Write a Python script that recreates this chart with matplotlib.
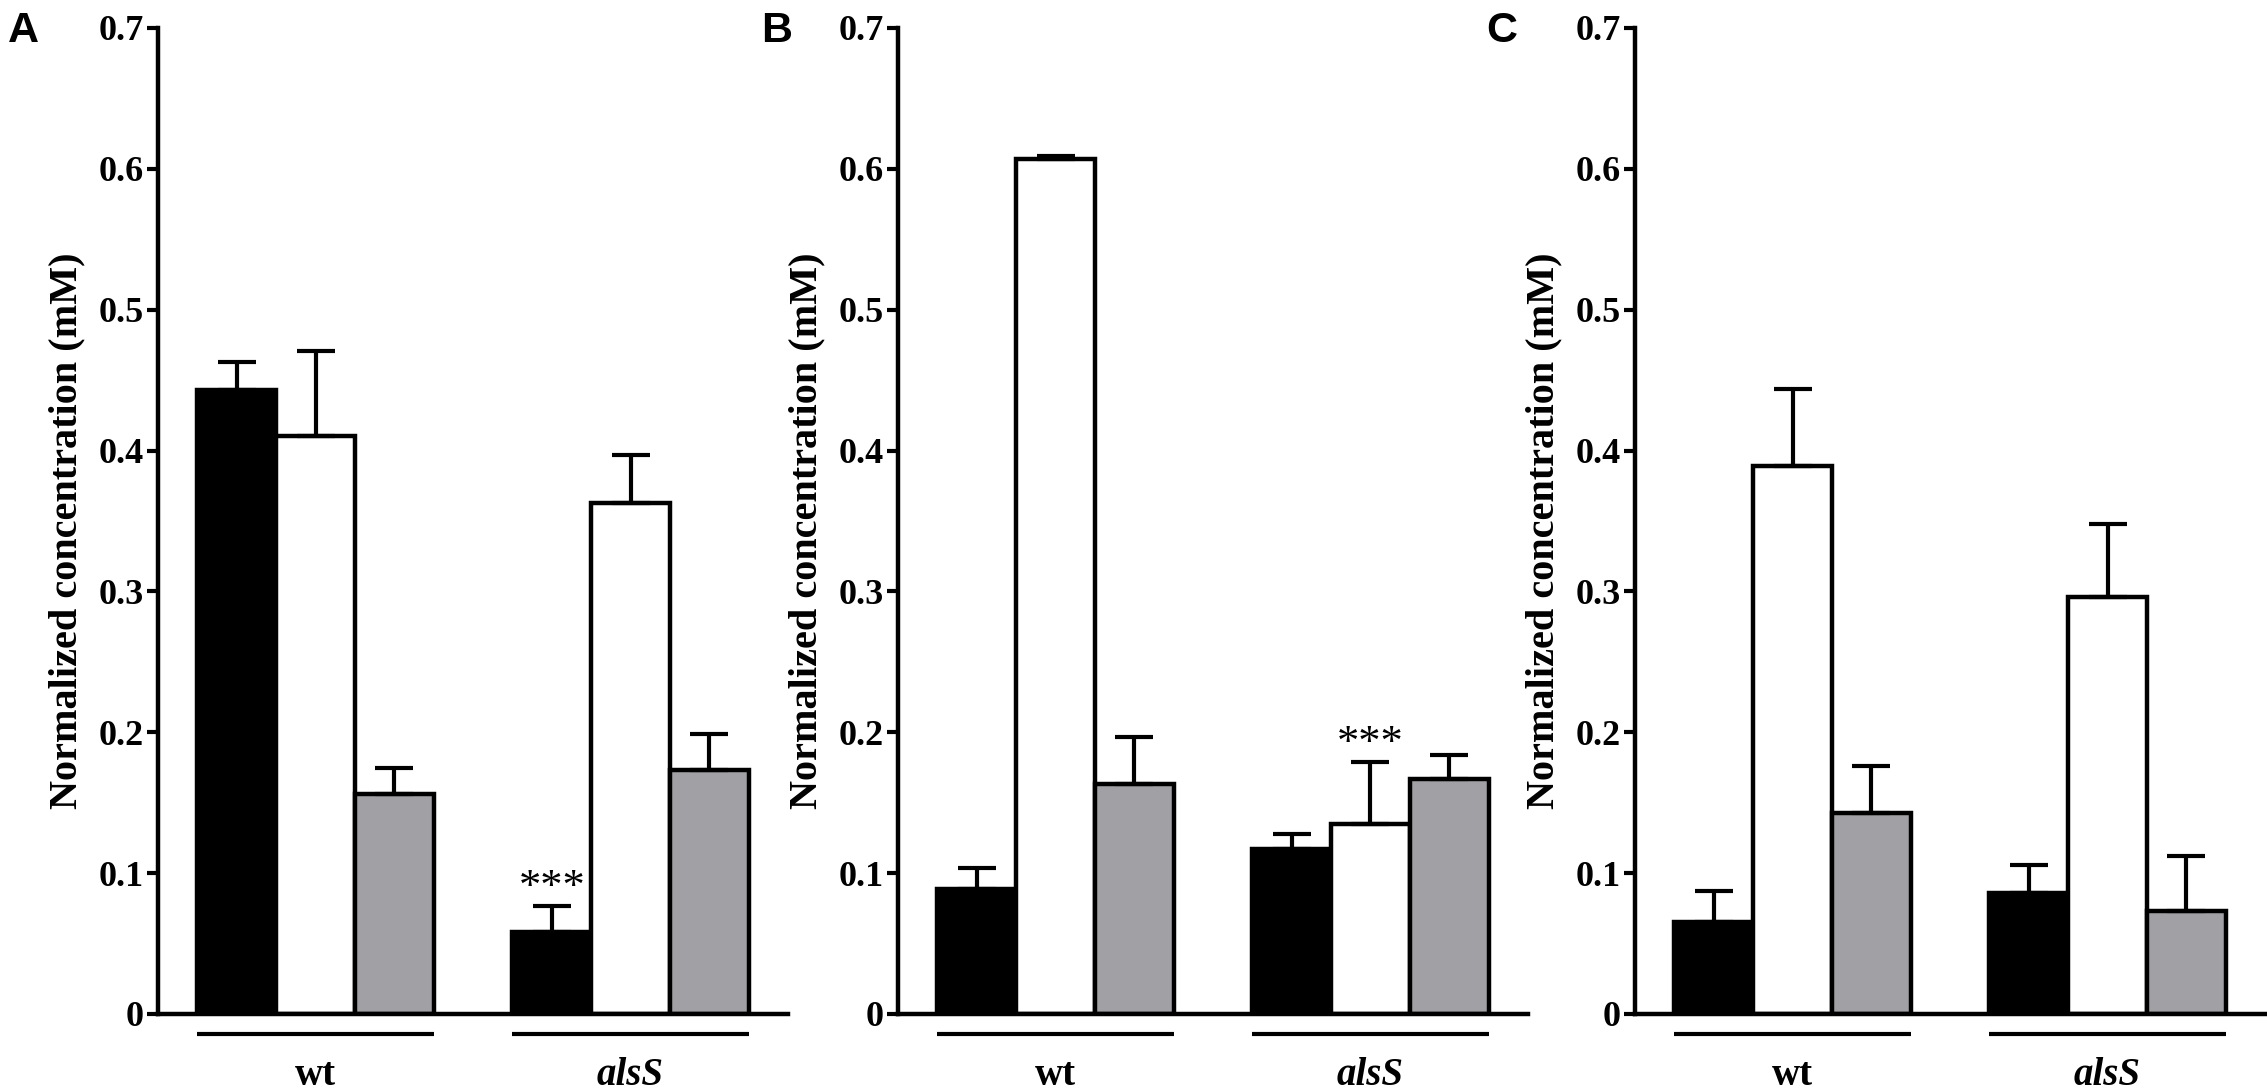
import numpy as np
import matplotlib
matplotlib.use("Agg")
import matplotlib.pyplot as plt
import matplotlib.transforms as mtransforms

plt.rcParams['font.family'] = ['Liberation Serif', 'DejaVu Serif']
plt.rcParams['font.weight'] = 'bold'

# data (mean, and upper error bar length)
groups = ['wt', 'alsS']
panels = ['A', 'B', 'C']

a_black = [0.443, 0.058]
a_black_err = [0.020, 0.019]
a_white = [0.410, 0.363]
a_white_err = [0.061, 0.034]
a_gray = [0.156, 0.173]
a_gray_err = [0.019, 0.026]

b_black = [0.089, 0.117]
b_black_err = [0.015, 0.011]
b_white = [0.607, 0.135]
b_white_err = [0.002, 0.044]
b_gray = [0.163, 0.167]
b_gray_err = [0.034, 0.017]

c_black = [0.065, 0.086]
c_black_err = [0.022, 0.020]
c_white = [0.389, 0.296]
c_white_err = [0.055, 0.052]
c_gray = [0.143, 0.073]
c_gray_err = [0.033, 0.039]

# significance marks: (panel, group index, series index)
stars = [('A', 1, 0), ('B', 1, 1)]

yticks = [0, 0.1, 0.2, 0.3, 0.4, 0.5, 0.6, 0.7]
ytick_labels = ['0', '0.1', '0.2', '0.3', '0.4', '0.5', '0.6', '0.7']

series_colors = ['black', 'white', '#a1a1a5']

panel_data = {
    'A': [(a_black, a_black_err), (a_white, a_white_err), (a_gray, a_gray_err)],
    'B': [(b_black, b_black_err), (b_white, b_white_err), (b_gray, b_gray_err)],
    'C': [(c_black, c_black_err), (c_white, c_white_err), (c_gray, c_gray_err)],
}

W, H = 2267, 1091
fig = plt.figure(figsize=(W / 100, H / 100), dpi=100)

axes_left = [158, 898, 1635]
letter_left = [8, 761, 1486]
group_centers = np.array([2.0, 6.0])
offsets = [-1, 0, 1]

for p, left, lx in zip(panels, axes_left, letter_left):
    ax = fig.add_axes([left / W, 77 / H, 630 / W, 986 / H])
    for k, (vals, errs) in enumerate(panel_data[p]):
        xs = group_centers + offsets[k]
        ax.bar(xs, vals, width=1.0, color=series_colors[k], edgecolor='black',
               linewidth=3.2, zorder=2)
        ax.errorbar(xs, vals, yerr=[np.zeros(len(vals)), errs], fmt='none',
                    ecolor='black', elinewidth=3, capsize=14, capthick=3, zorder=3)

    for sp, gi, si in stars:
        if sp == p:
            vals, errs = panel_data[p][si]
            x = group_centers[gi] + offsets[si]
            ax.annotate('***', xy=(x, vals[gi] + errs[gi]), xytext=(0, 5),
                        textcoords='offset points', ha='center', va='baseline',
                        fontsize=32, fontweight='normal')

    ax.set_xlim(0, 8)
    ax.set_ylim(0, 0.7)
    ax.spines['top'].set_visible(False)
    ax.spines['right'].set_visible(False)
    ax.spines['left'].set_linewidth(3.2)
    ax.spines['bottom'].set_linewidth(3.2)
    ax.set_xticks([])
    ax.set_yticks(yticks)
    ax.set_yticklabels(ytick_labels)
    ax.tick_params(axis='y', direction='out', length=8, width=3, pad=2, labelsize=26)

    ax.set_ylabel('Normalized concentration (mM)', fontsize=29, fontweight='bold')
    ax.yaxis.set_label_coords(-0.116, 0.49)

    # group bars and labels under the axis
    trans = mtransforms.blended_transform_factory(ax.transData, ax.transAxes)
    for gc, g in zip(group_centers, groups):
        ax.plot([gc - 1.5, gc + 1.5], [-0.0203, -0.0203], color='black', lw=3,
                transform=trans, clip_on=False, solid_capstyle='butt')
        ax.text(gc, -0.072, g, transform=trans, ha='center', va='baseline',
                fontsize=28, fontweight='bold',
                style='italic' if g == 'alsS' else 'normal')

    fig.text(lx / W, 1 - 42 / H, p, ha='left', va='baseline', fontsize=31,
             fontweight='bold', family='Liberation Sans')

fig.savefig('out.png', dpi=100)
